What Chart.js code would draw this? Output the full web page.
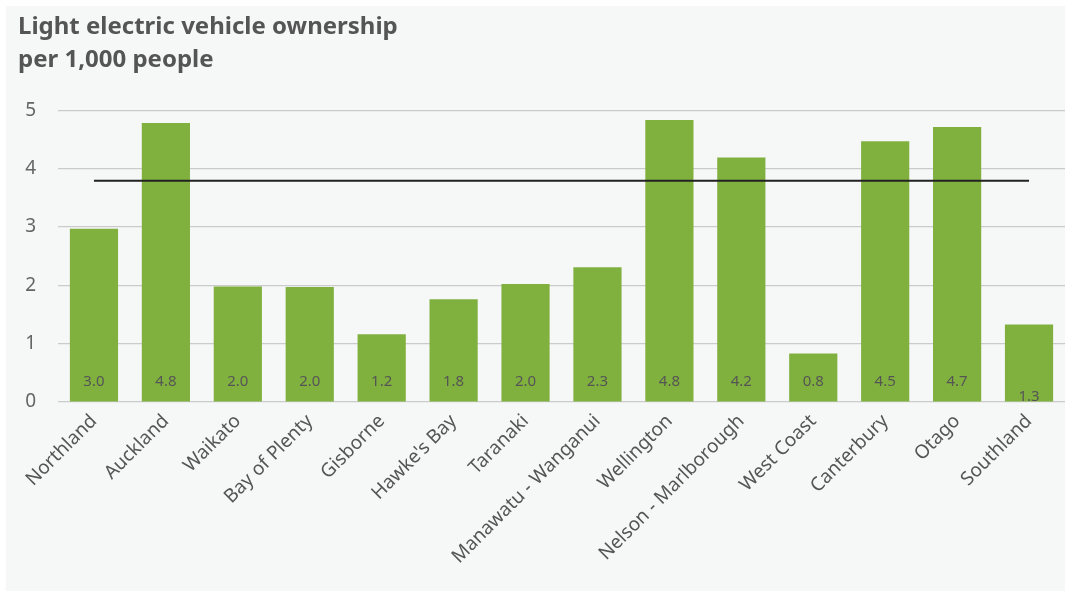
<!DOCTYPE html>
<html>
<head>
<meta charset="utf-8">
<script src="https://cdn.jsdelivr.net/npm/chart.js@4"></script>
<style>
html,body{margin:0;padding:0;background:#fff;}
#wrap{position:absolute;left:6px;top:6px;width:1059px;height:585px;background:#f6f7f7;}
</style>
</head>
<body>
<div id="wrap"><canvas id="c" width="1059" height="585"></canvas></div>
<script>
// data
const regions=['Northland','Auckland','Waikato','Bay of Plenty','Gisborne',"Hawke's Bay",'Taranaki','Manawatu - Wanganui','Wellington','Nelson - Marlborough','West Coast','Canterbury','Otago','Southland'];
const ownership=[2.97,4.78,1.98,1.97,1.16,1.76,2.02,2.31,4.83,4.19,0.83,4.47,4.71,1.33];
const nationalAvg=3.79;
const yTicks=[0,1,2,3,4,5];

const FONT='"Noto Sans", "Open Sans", sans-serif';

// value labels near the bottom of each bar
const barLabels={
  id:'barLabels',
  afterDatasetsDraw(chart){
    const ctx=chart.ctx, meta=chart.getDatasetMeta(0), base=chart.scales.y.getPixelForValue(0);
    ctx.save();
    ctx.font='15px '+FONT; ctx.fillStyle='#555'; ctx.textAlign='center'; ctx.textBaseline='middle';
    meta.data.forEach((bar,i)=>{
      const y=i===ownership.length-1 ? base-5 : base-20;
      ctx.fillText(ownership[i].toFixed(1),bar.x,y);
    });
    ctx.restore();
  }
};

new Chart(document.getElementById('c'),{
  type:'bar',
  data:{
    labels:regions,
    datasets:[
      {type:'bar',data:ownership,backgroundColor:'#80b13f',barPercentage:0.67,categoryPercentage:1,order:2},
      {type:'line',data:regions.map(()=>nationalAvg),borderColor:'#222',borderWidth:2,pointRadius:0,fill:false,order:1}
    ]
  },
  options:{
    responsive:false,animation:false,
    layout:{padding:{left:12,right:0,top:0,bottom:6}},
    plugins:{
      legend:{display:false},tooltip:{enabled:false},
      title:{display:true,align:'start',text:['Light electric vehicle ownership','per 1,000 people'],
        color:'#555',font:{family:FONT,size:24,weight:'bold',lineHeight:1.4},padding:{top:4,bottom:33}}
    },
    scales:{
      y:{min:0,max:5,
        afterBuildTicks(s){s.ticks=yTicks.map(v=>({value:v}));},
        afterFit(s){s.width=40;},
        grid:{color:'#cbcbcb',drawTicks:false,lineWidth:1.2},border:{display:false},
        ticks:{color:'#666',font:{family:FONT,size:19},padding:22}},
      x:{grid:{display:false},border:{display:false},
        afterFit(s){s.height=183;},
        ticks:{color:'#555',font:{family:FONT,size:19},maxRotation:45,minRotation:45,autoSkip:false,padding:0}}
    }
  },
  plugins:[barLabels]
});
</script>
</body>
</html>
